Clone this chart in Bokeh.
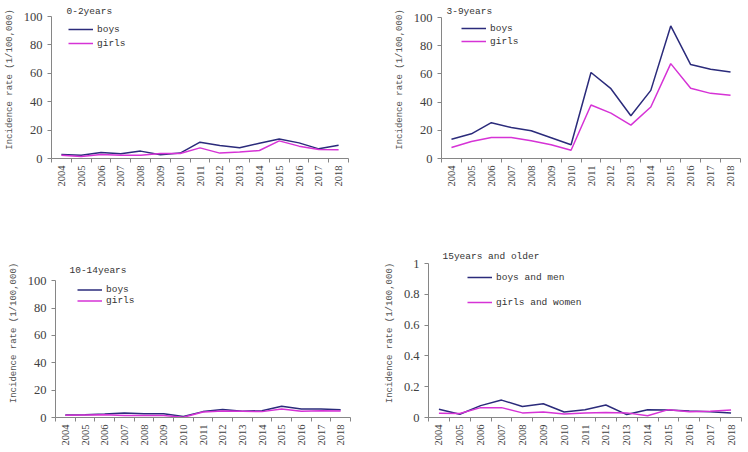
import math
from bokeh.plotting import figure
from bokeh.models import (Range1d, FixedTicker, Label, Legend, LegendItem,
                          NumeralTickFormatter)
from bokeh.layouts import column, row
from bokeh.embed import file_html
from bokeh.resources import INLINE

years = list(range(2004, 2019))

# 0-2 years
boys_0_2 = [2.8, 2.3, 4.2, 3.3, 5.2, 2.6, 3.8, 11.5, 9.2, 7.5, 10.8, 13.8, 11.0, 6.8, 9.4]
girls_0_2 = [2.3, 1.4, 2.8, 2.3, 2.3, 3.5, 3.5, 7.5, 3.8, 4.5, 5.6, 12.4, 8.7, 6.3, 6.1]

# 3-9 years
boys_3_9 = [13.7, 17.5, 25.4, 22.0, 19.7, 14.7, 9.7, 61.0, 49.5, 30.3, 48.3, 94.0, 66.6, 63.3, 61.4]
girls_3_9 = [7.8, 12.0, 14.9, 14.9, 12.6, 9.7, 5.9, 37.9, 32.2, 23.7, 36.5, 67.3, 49.8, 46.2, 44.8]

# 10-14 years
boys_10_14 = [1.9, 2.1, 2.6, 3.3, 2.8, 2.8, 0.7, 4.3, 5.9, 4.5, 5.0, 8.3, 6.2, 6.2, 5.7]
girls_10_14 = [1.7, 1.9, 2.1, 1.4, 1.4, 1.4, 0.2, 4.0, 4.7, 4.5, 4.3, 6.2, 4.5, 5.0, 4.7]

# 15 years and older
men_15 = [0.053, 0.021, 0.077, 0.113, 0.072, 0.089, 0.036, 0.051, 0.081, 0.019, 0.051, 0.049, 0.043, 0.038, 0.030]
women_15 = [0.028, 0.026, 0.064, 0.064, 0.030, 0.036, 0.023, 0.030, 0.032, 0.030, 0.011, 0.051, 0.038, 0.040, 0.049]

y_ticks_child = [0, 20, 40, 60, 80, 100]
y_ticks_adult = [0, 0.2, 0.4, 0.6, 0.8, 1]

titles = ["0-2years", "3-9years", "10-14years", "15years and older"]
y_label = "Incidence rate (1/100,000)"

BOY_COLOR = "#2b2b7b"
GIRL_COLOR = "#d633d6"
AXIS_COLOR = "#868686"
TEXT_COLOR = "#404040"
MONO = "Liberation Mono"
SERIF = "Liberation Serif"


def make_panel(width, height, mbl, mbr, mbb, y_end, y_top, y_ticks, title,
               title_dx, title_dy, boys, girls, names, leg_loc, leg_h, leg_sp,
               fmt=None):
    p = figure(width=width, height=height, output_backend="svg",
               toolbar_location=None,
               x_range=Range1d(years[0] - 0.5, years[-1] + 0.5),
               y_range=Range1d(0, y_end),
               min_border=0, min_border_left=mbl, min_border_right=mbr,
               min_border_top=0, min_border_bottom=mbb)
    p.outline_line_color = None
    p.grid.visible = False
    p.background_fill_color = "white"
    p.border_fill_color = "white"

    # x axis
    xa = p.xaxis[0]
    xa.ticker = FixedTicker(ticks=years,
                            minor_ticks=[y - 0.5 for y in years] + [years[-1] + 0.5])
    xa.major_tick_line_color = None
    xa.major_tick_out = 0
    xa.major_tick_in = 0
    xa.minor_tick_line_color = AXIS_COLOR
    xa.minor_tick_out = 4
    xa.minor_tick_in = 0
    xa.axis_line_color = AXIS_COLOR
    xa.major_label_orientation = math.pi / 2
    xa.major_label_standoff = 3
    xa.major_label_text_font = SERIF
    xa.major_label_text_font_size = "10.5px"
    xa.major_label_text_color = TEXT_COLOR

    # y axis
    ya = p.yaxis[0]
    ya.ticker = FixedTicker(ticks=y_ticks, minor_ticks=[])
    ya.bounds = (0, y_top)
    ya.axis_line_color = AXIS_COLOR
    ya.major_tick_line_color = AXIS_COLOR
    ya.major_tick_out = 4
    ya.major_tick_in = 0
    ya.minor_tick_line_color = None
    ya.major_label_standoff = 5
    ya.major_label_text_font = SERIF
    ya.major_label_text_font_size = "12.5px"
    ya.major_label_text_color = TEXT_COLOR
    ya.axis_label = y_label
    ya.axis_label_standoff = 6
    ya.axis_label_text_font = MONO
    ya.axis_label_text_font_size = "9px"
    ya.axis_label_text_font_style = "normal"
    ya.axis_label_text_color = "#555555"
    if fmt is not None:
        ya.formatter = fmt

    rb = p.line(years, boys, line_color=BOY_COLOR, line_width=1.5)
    rg = p.line(years, girls, line_color=GIRL_COLOR, line_width=1.5)

    p.add_layout(Label(x=years[0] - 0.5, y=y_end, x_offset=title_dx,
                       y_offset=title_dy, text=title, text_font=MONO,
                       text_font_size="9.5px", text_color="#333333",
                       text_baseline="top", text_align="left"))

    leg = Legend(items=[LegendItem(label=names[0], renderers=[rb]),
                        LegendItem(label=names[1], renderers=[rg])],
                 location=leg_loc, orientation="vertical",
                 glyph_width=25, glyph_height=leg_h, label_height=leg_h,
                 label_width=10, spacing=leg_sp, padding=0, margin=0,
                 label_standoff=4, border_line_color=None,
                 background_fill_alpha=0,
                 label_text_font=MONO, label_text_font_size="9.5px",
                 label_text_color="#333333")
    p.add_layout(leg)
    return p


# row 1: figures span page y 0..248, frame 0..158
p1 = make_panel(374, 248, 51, 26, 90, 100 * 158 / 142, 100, y_ticks_child,
                titles[0], 15, -5, boys_0_2, girls_0_2, ["boys", "girls"],
                (17, 109), 12, 2)
p2 = make_panel(372, 248, 67, 6, 90, 100 * 158 / 141, 100, y_ticks_child,
                titles[1], 5, -5, boys_3_9, girls_3_9, ["boys", "girls"],
                (20, 111), 12, 1)
# row 2: figures span page y 248..450
p3 = make_panel(374, 202, 55, 24, 29, 100 * 173 / 140, 100, y_ticks_child,
                titles[2], 14, -16, boys_10_14, girls_10_14, ["boys", "girls"],
                (22, 111), 11, 0)
p4 = make_panel(372, 202, 54, 5, 33, 169 / 154, 1, y_ticks_adult,
                titles[3], 14, -2, men_15, women_15,
                ["boys and men", "girls and women"], (39, 109), 12, 13,
                fmt=NumeralTickFormatter(format="0.[0]"))

layout = column(row(p1, p2), row(p3, p4))

open("out.html", "w").write(file_html(layout, INLINE))
